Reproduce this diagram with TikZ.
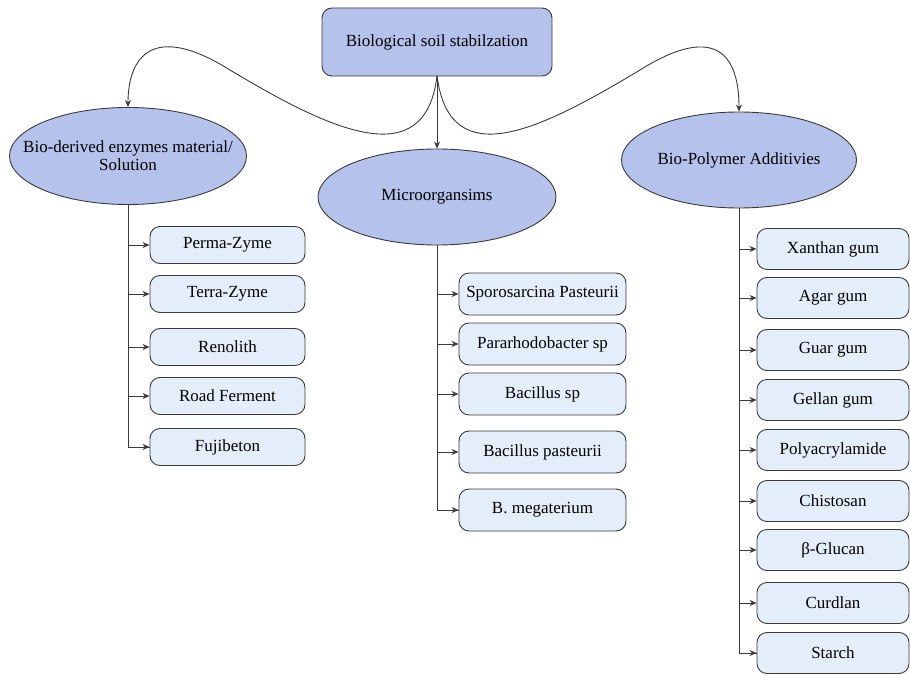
\documentclass[tikz,border=0pt]{standalone}
\usepackage{fontspec}
\setmainfont{Liberation Serif}
\usetikzlibrary{shapes.geometric,arrows.meta}
\definecolor{headfill}{HTML}{B4C2EC}
\definecolor{leaffill}{HTML}{E4EEFA}
\definecolor{edge}{HTML}{3A3A3A}
\tikzset{
  headbox/.style={draw=edge,fill=headfill,rounded corners=10pt,line width=0.9pt,minimum width=230pt,minimum height=68pt,font=\fontsize{17}{19}\selectfont},
  groupell/.style={draw=edge,fill=headfill,ellipse,line width=0.9pt,inner xsep=-40pt,inner ysep=0pt,font=\fontsize{17}{19}\selectfont,align=center},
  leafbox/.style={draw=edge,fill=leaffill,rounded corners=10pt,line width=0.9pt,inner sep=0pt,font=\fontsize{17}{19}\selectfont},
  conn/.style={draw=edge,line width=0.9pt,-{Stealth[length=7pt,width=6pt]}},
  trunk/.style={draw=edge,line width=0.9pt}
}
\begin{document}
\begin{tikzpicture}[x=1pt,y=-1pt]
\useasboundingbox (0,0) rectangle (910,676);
\node[headbox] (top) at (437,42) {Biological soil stabilzation};
\node[groupell,minimum width=237pt,minimum height=97pt] (enz) at (128,156) {Bio-derived enzymes material/\\[-1pt]Solution};
\node[groupell,minimum width=238pt,minimum height=96pt] (mic) at (437,197) {Microorgansims};
\node[groupell,minimum width=235pt,minimum height=96pt] (poly) at (739,160) {Bio-Polymer Additivies};
\coordinate (tb) at (437,76);
\draw[conn] (tb) .. controls (425,175) and (330,130) .. (230,70) .. controls (150,20) and (128,60) .. (enz.north);
\draw[conn] (tb) .. controls (450,175) and (540,130) .. (640,70) .. controls (720,20) and (739,60) .. (poly.north);
\draw[conn] (tb) -- (mic.north);
% left
\foreach \n/\y/\t in {e1/245/Perma-Zyme,e2/294/Terra-Zyme,e3/347/Renolith,e4/396/Road Ferment,e5/447/Fujibeton}{
  \node[leafbox,minimum width=155pt,minimum height=37pt] (\n) at (227.5,\y) {\t};
}
\draw[trunk] (enz.south) |- (e5.west);
\foreach \n in {e1,e2,e3,e4,e5}{ \draw[conn] (enz.south |- \n.west) -- (\n.west); }
% middle
\foreach \n/\y/\t in {m1/294/Sporosarcina Pasteurii,m2/344/Pararhodobacter sp,m3/394/Bacillus sp,m4/452/Bacillus pasteurii,m5/510/B. megaterium}{
  \node[leafbox,minimum width=167pt,minimum height=42pt] (\n) at (542.5,\y) {\t};
}
\draw[trunk] (mic.south) |- (m5.west);
\foreach \n in {m1,m2,m3,m4,m5}{ \draw[conn] (mic.south |- \n.west) -- (\n.west); }
% right
\foreach \n/\y/\t in {p1/249/Xanthan gum,p2/298/Agar gum,p3/350/Guar gum,p4/400/Gellan gum,p5/450/Polyacrylamide,p6/501/Chistosan,p7/550/β-Glucan,p8/603/Curdlan,p9/653/Starch}{
  \node[leafbox,minimum width=152pt,minimum height=41pt] (\n) at (833,\y) {\t};
}
\draw[trunk] (poly.south) |- (p9.west);
\foreach \n in {p1,p2,p3,p4,p5,p6,p7,p8,p9}{ \draw[conn] (poly.south |- \n.west) -- (\n.west); }
\end{tikzpicture}
\end{document}
